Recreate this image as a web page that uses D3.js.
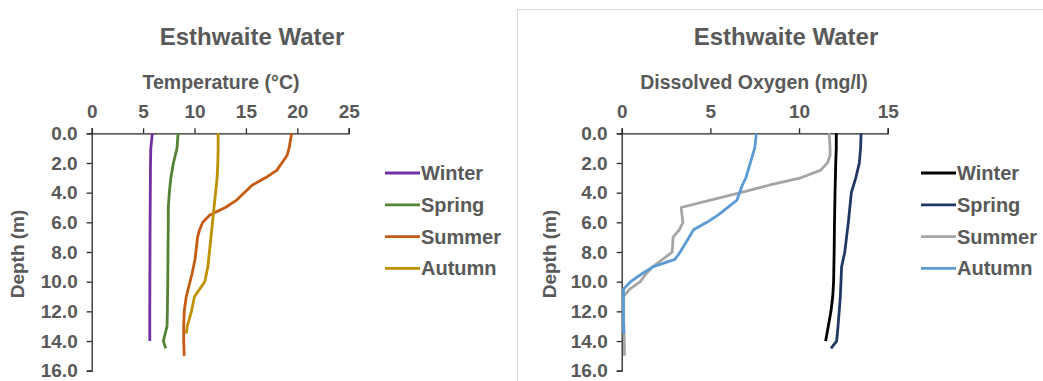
<!DOCTYPE html>
<html>
<head>
<meta charset="utf-8">
<script src="https://cdn.jsdelivr.net/npm/d3@7/dist/d3.min.js"></script>
<style>
  html, body { margin: 0; padding: 0; background: #ffffff; }
  svg { display: block; }
  text { font-family: "Liberation Sans", Arial, sans-serif; font-weight: bold; fill: #595959; }
</style>
</head>
<body>
<script>
// ---------- DATA ----------
const seasons = ["Winter", "Spring", "Summer", "Autumn"];
const tempTicks = [0, 5, 10, 15, 20, 25];
const doTicks = [0, 5, 10, 15];
const depthTicks = [0, 2, 4, 6, 8, 10, 12, 14, 16];

// Temperature (°C) profiles
const winterTempDepth = [0, 1, 2, 4, 6, 8, 10, 12, 14];
const winterTemp      = [5.9, 5.75, 5.72, 5.7, 5.68, 5.67, 5.66, 5.65, 5.65];
const springTempDepth = [0, 1, 2, 3, 4, 5, 6, 8, 10, 12, 13, 14, 14.5];
const springTemp      = [8.4, 8.3, 7.95, 7.7, 7.55, 7.45, 7.45, 7.42, 7.4, 7.36, 7.33, 6.97, 7.2];
const summerTempDepth = [0, 1, 1.5, 2.5, 3, 3.5, 4.5, 5, 5.5, 6, 6.5, 7, 8.5, 9.5, 11, 12, 13, 14, 15];
const summerTemp      = [19.45, 19.2, 19.0, 18.0, 16.9, 15.6, 14.1, 13.0, 11.5, 10.8, 10.5, 10.3, 10.05, 9.75, 9.2, 9.0, 8.95, 8.95, 9.0];
const autumnTempDepth = [0, 1, 2, 3, 4, 5, 6, 7, 8, 9, 10, 10.5, 11, 12, 13, 13.5];
const autumnTemp      = [12.3, 12.3, 12.27, 12.2, 12.05, 11.9, 11.75, 11.6, 11.45, 11.3, 11.0, 10.5, 10.0, 9.7, 9.3, 9.2];

// Dissolved oxygen (mg/l) profiles
const winterDODepth = [0, 1, 2, 4, 6, 8, 10, 11, 12, 13, 14];
const winterDO      = [12.1, 12.1, 12.07, 12.03, 12.0, 11.98, 11.95, 11.9, 11.8, 11.65, 11.5];
const springDODepth = [0, 1, 2, 3, 4, 6, 8, 9, 11, 13, 14, 14.5];
const springDO      = [13.5, 13.47, 13.4, 13.2, 12.95, 12.78, 12.58, 12.4, 12.33, 12.2, 12.12, 11.8];
const summerDODepth = [0, 1, 1.5, 2, 2.5, 3, 3.5, 4, 4.5, 5, 5.5, 6, 6.5, 7, 8, 8.5, 9, 9.5, 10, 10.5, 11, 12, 13, 14, 15];
const summerDO      = [11.7, 11.75, 11.75, 11.6, 11.2, 10.1, 8.3, 6.7, 5.0, 3.35, 3.4, 3.45, 3.25, 2.9, 2.85, 2.3, 1.75, 1.35, 1.05, 0.45, 0.1, 0.1, 0.12, 0.15, 0.15];
const autumnDODepth = [0, 1, 2, 3, 3.5, 4.5, 5.5, 6, 6.5, 7, 8, 8.5, 9, 9.5, 10, 10.5, 11, 12, 13, 13.5];
const autumnDO      = [7.6, 7.5, 7.25, 7.0, 6.8, 6.5, 5.45, 4.8, 4.05, 3.8, 3.3, 3.0, 1.75, 1.1, 0.5, 0.1, 0.1, 0.1, 0.1, 0.12];

const tempColors = ["#7030A0", "#548235", "#C55A11", "#BF9000"];
const doColors   = ["#000000", "#203864", "#A5A5A5", "#5B9BD5"];

// ---------- DRAW ----------
const W = 1043, H = 381;
const svg = d3.select("body").append("svg").attr("width", W).attr("height", H);
svg.append("rect").attr("x", 0).attr("y", 0).attr("width", W).attr("height", H).attr("fill", "#fff");
// right panel border
svg.append("rect").attr("x", 517.5).attr("y", 9.5).attr("width", 540).attr("height", 380)
  .attr("fill", "#fff").attr("stroke", "#d9d9d9").attr("stroke-width", 1);

function zip(d, v) { return d.map((dep, i) => ({ depth: dep, v: v[i] })); }

function panel(cfg) {
  const x = d3.scaleLinear().domain(cfg.xDomain).range([cfg.x0, cfg.x1]);
  const y = d3.scaleLinear().domain([0, 16]).range([133.3, 370.7]);
  const g = svg.append("g");

  g.append("text").attr("x", cfg.titleX).attr("y", 45).attr("text-anchor", "middle")
    .style("font-size", "24px").text("Esthwaite Water");
  g.append("text").attr("x", cfg.axisTitleX).attr("y", 89).attr("text-anchor", "middle")
    .style("font-size", "19.5px").text(cfg.axisTitle);
  g.append("text").attr("transform", `translate(${cfg.depthX},254) rotate(-90)`)
    .attr("text-anchor", "middle").style("font-size", "19px").text("Depth (m)");

  const xAxis = g.append("g").attr("transform", `translate(0,${y(0)})`)
    .call(d3.axisTop(x).tickValues(cfg.ticks).tickSize(5).tickSizeOuter(5).tickPadding(10).tickFormat(d3.format("d")));
  const yAxis = g.append("g").attr("transform", `translate(${x(0)},0)`)
    .call(d3.axisLeft(y).tickValues(depthTicks).tickSize(5).tickSizeOuter(5).tickPadding(9).tickFormat(d3.format(".1f")));
  [xAxis, yAxis].forEach(a => {
    a.selectAll("path, line").attr("stroke", "#262626").attr("stroke-width", 1.3);
    a.selectAll("text").style("font-size", "19px").style("font-family", "'Liberation Sans', Arial, sans-serif")
      .style("font-weight", "bold").attr("fill", "#595959");
  });

  const line = d3.line().x(d => x(d.v)).y(d => y(d.depth));
  cfg.series.forEach((s, i) => {
    g.append("path").datum(zip(s[0], s[1])).attr("d", line).attr("fill", "none")
      .attr("stroke", cfg.colors[i]).attr("stroke-width", 2.8).attr("stroke-linejoin", "round");
  });

  const lg = g.append("g");
  seasons.forEach((name, i) => {
    const ly = 173 + i * 31.8;
    lg.append("line").attr("x1", cfg.legX).attr("x2", cfg.legX + 35).attr("y1", ly).attr("y2", ly)
      .attr("stroke", cfg.colors[i]).attr("stroke-width", 2.8);
    lg.append("text").attr("x", cfg.legX + 36).attr("y", ly + 7).style("font-size", "20px").text(name);
  });
}

panel({
  xDomain: [0, 25], x0: 91.7, x1: 348.7, ticks: tempTicks,
  titleX: 252, axisTitleX: 221, axisTitle: "Temperature (°C)", depthX: 24,
  colors: tempColors, legX: 385,
  series: [[winterTempDepth, winterTemp], [springTempDepth, springTemp], [summerTempDepth, summerTemp], [autumnTempDepth, autumnTemp]]
});
panel({
  xDomain: [0, 15], x0: 621.7, x1: 887.7, ticks: doTicks,
  titleX: 786, axisTitleX: 754, axisTitle: "Dissolved Oxygen (mg/l)", depthX: 556,
  colors: doColors, legX: 921,
  series: [[winterDODepth, winterDO], [springDODepth, springDO], [summerDODepth, summerDO], [autumnDODepth, autumnDO]]
});
</script>
</body>
</html>
